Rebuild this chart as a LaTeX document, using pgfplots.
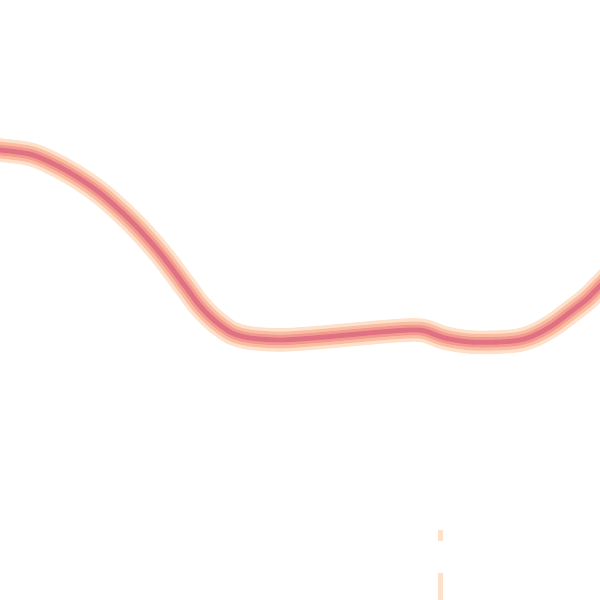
\documentclass[border=0pt]{standalone}
\usepackage{pgfplots}
\pgfplotsset{compat=1.18}
\definecolor{c1}{HTML}{FDE1CB}
\definecolor{c2}{HTML}{FABDA4}
\definecolor{c3}{HTML}{F39A8E}
\definecolor{c4}{HTML}{E07283}
\begin{document}
\begin{tikzpicture}
\begin{axis}[
  width=6in, height=6in, scale only axis,
  xmin=0, xmax=600, ymin=0, ymax=600, y dir=reverse,
  hide axis, clip=true,
]
\path (rel axis cs:0,0) rectangle (rel axis cs:1,1);
\pgfplotstableread{
x y
-10 149
0 150
33 155
67 171
100 193
133 223
160 253
185 286
200 306
215 321
232 333
250 338
280 340
313 338
347 335
380 332
410 330
425 331
445 338
470 342
500 342
520 340
535 335
553 325
573 310
587 299
600 286
610 276
}\curve
\addplot[c1, line width=17pt, smooth, line cap=round] table {\curve};
\addplot[c2, line width=12pt, smooth, line cap=round] table {\curve};
\addplot[c3, line width=7.5pt, smooth, line cap=round] table {\curve};
\addplot[c4, line width=3.5pt, smooth, line cap=round] table {\curve};
\addplot[c1, line width=4pt] coordinates {(440.5,530) (440.5,541)};
\addplot[c1, line width=4pt] coordinates {(440.5,573) (440.5,600)};
\end{axis}
\end{tikzpicture}
\end{document}
